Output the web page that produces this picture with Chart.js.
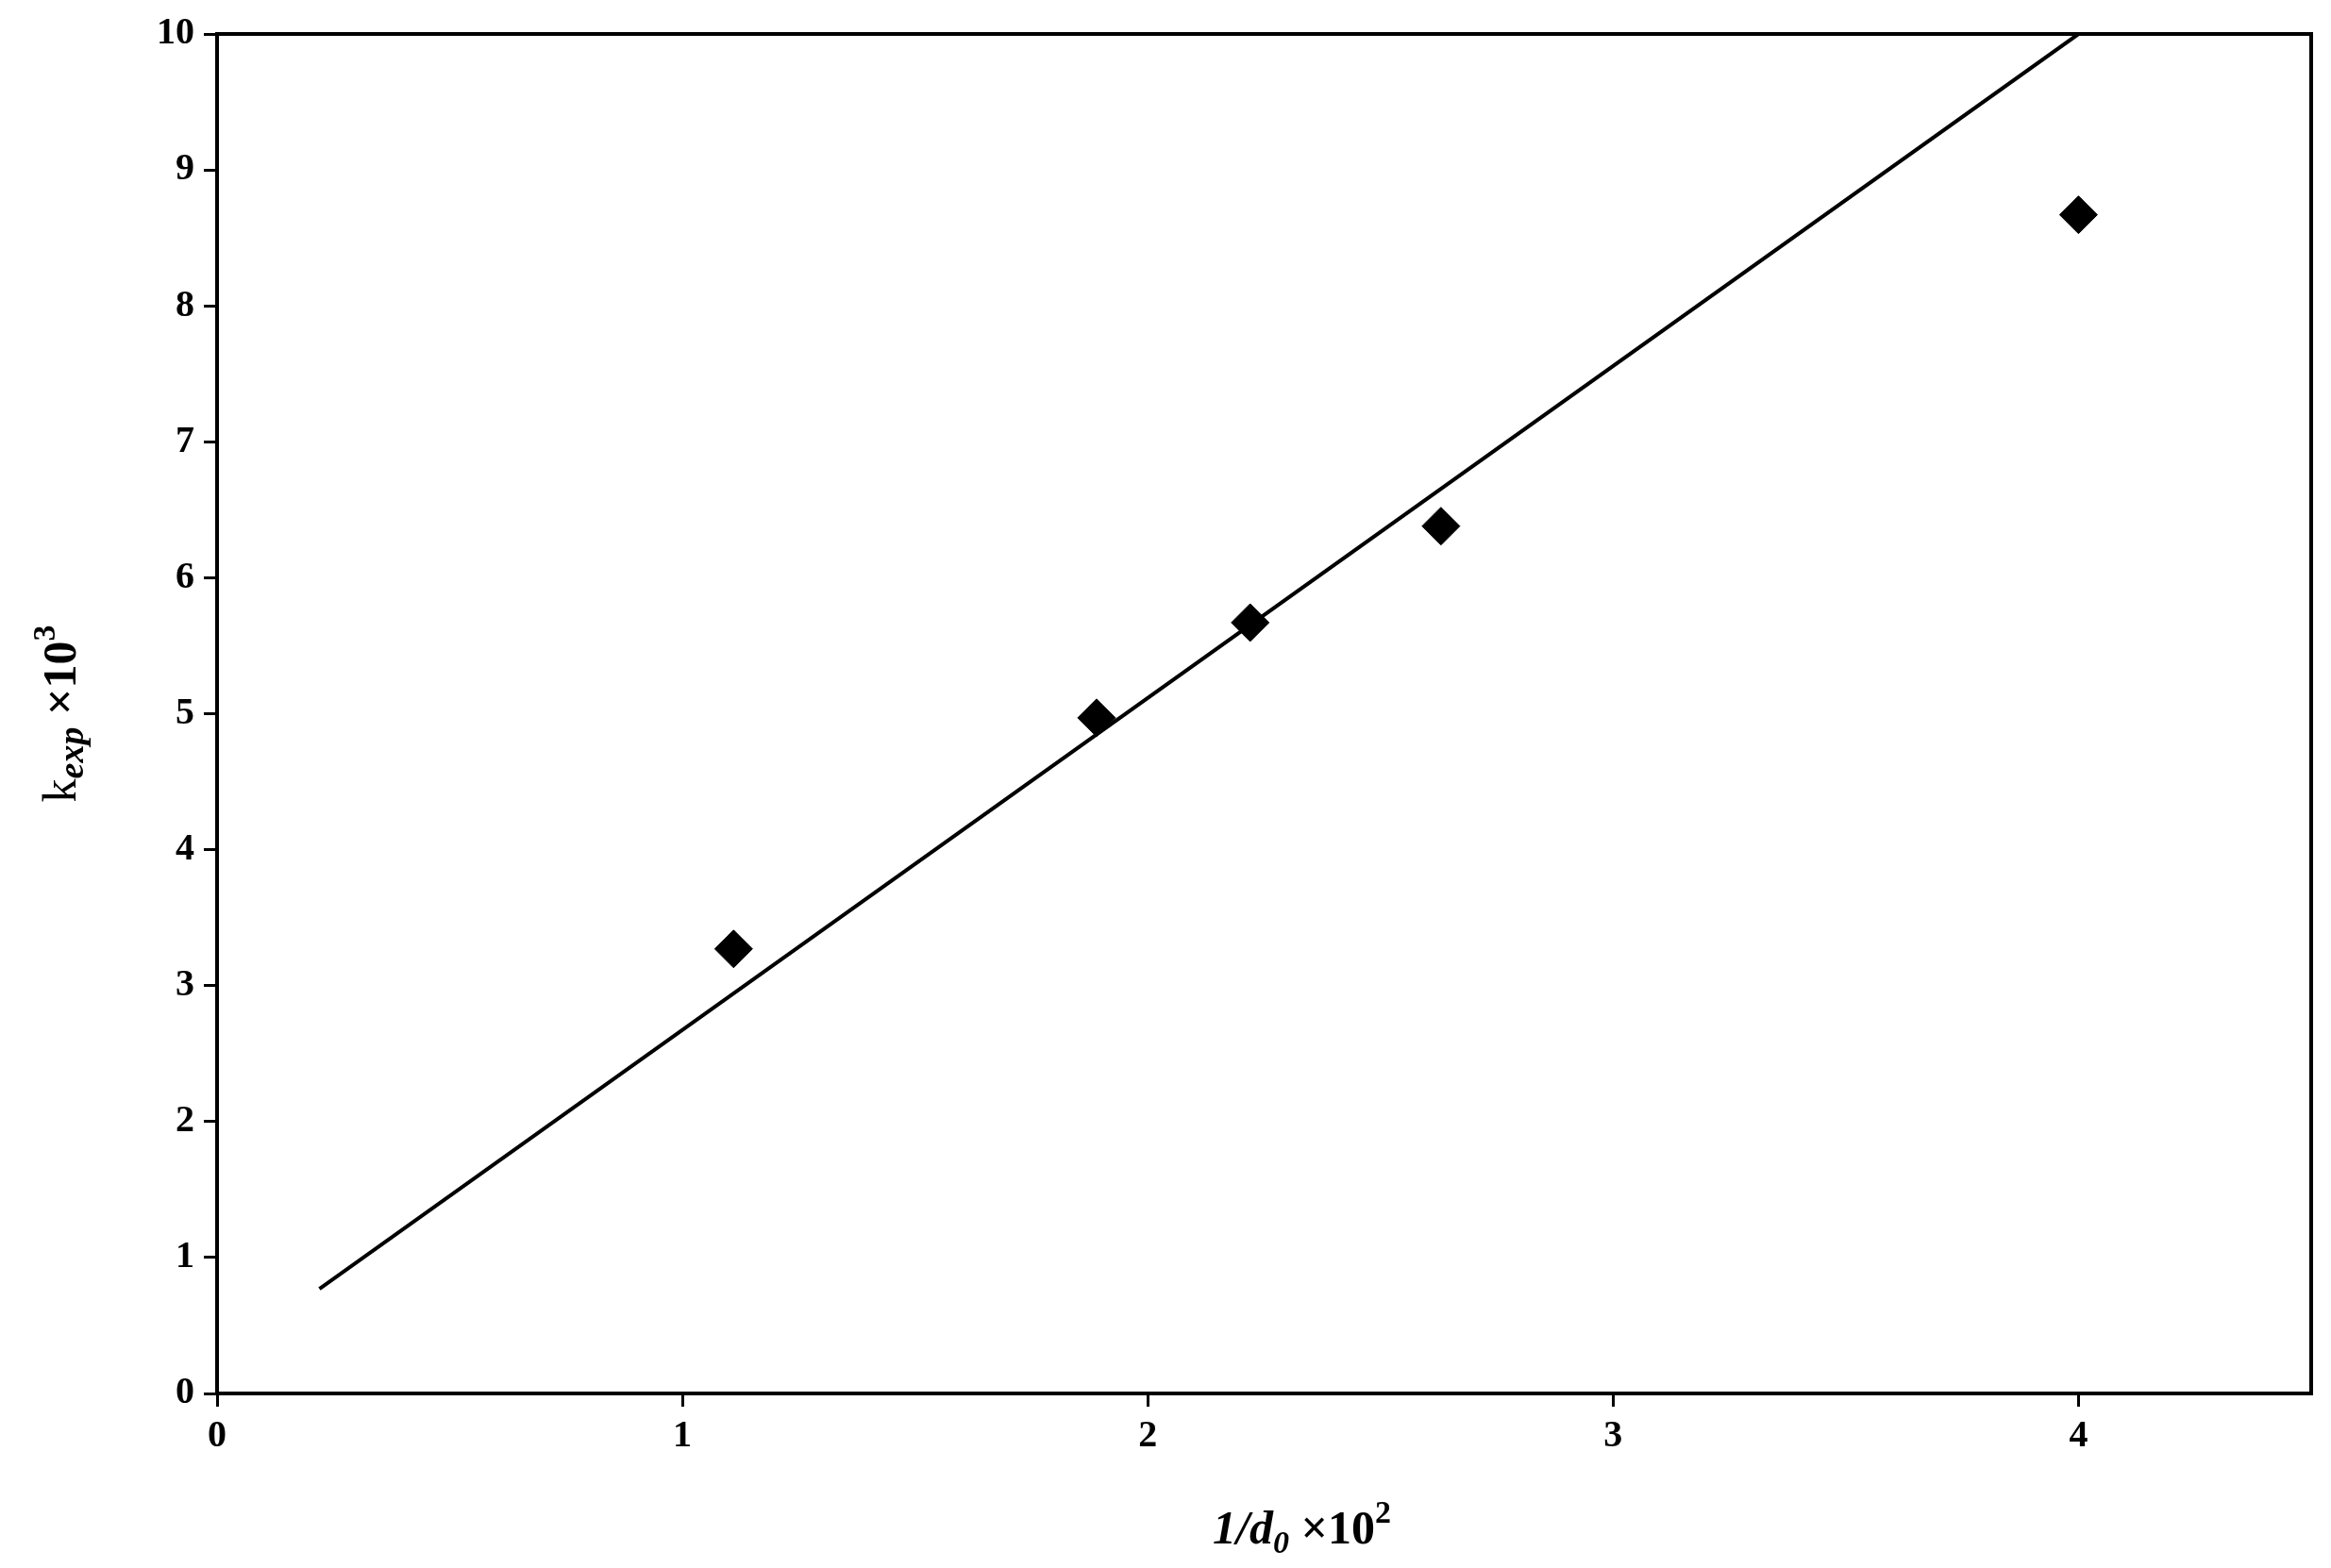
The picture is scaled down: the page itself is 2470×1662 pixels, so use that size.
<!DOCTYPE html>
<html>
<head>
<meta charset="utf-8">
<script src="https://cdn.jsdelivr.net/npm/chart.js@4/dist/chart.umd.min.js"></script>
<style>
  html, body { margin: 0; padding: 0; background: #fff; }
  canvas { display: block; }
</style>
</head>
<body>
<canvas id="c" width="2470" height="1662"></canvas>
<script>
// === Données ===
const xValues = [1.11, 1.89, 2.22, 2.63, 4.0];
const yValues = [3.27, 4.97, 5.67, 6.38, 8.67];
const fitX = [0.22, 4.0];
const fitY = [0.77, 10.0];
const xTicks = [0, 1, 2, 3, 4];
const yTicks = [0, 1, 2, 3, 4, 5, 6, 7, 8, 9, 10];

const FONT = '"Liberation Serif", "Times New Roman", serif';

// === Titres des axes avec indices / exposants ===
const axisTitles = {
  id: 'axisTitles',
  afterDraw(chart) {
    const ctx = chart.ctx;
    const area = chart.chartArea;
    ctx.save();
    ctx.fillStyle = '#000';
    ctx.textBaseline = 'alphabetic';

    // cadre
    ctx.strokeStyle = '#000';
    ctx.lineWidth = 4;
    ctx.strokeRect(area.left, area.top, area.right - area.left, area.bottom - area.top);

    // titre X : 1/d0 ×10²
    const parts = [
      { t: '1/d', f: 'italic bold 50px ' + FONT, dy: 0 },
      { t: '0', f: 'italic bold 34px ' + FONT, dy: 10 },
      { t: ' \u00d710', f: 'bold 50px ' + FONT, dy: 0 },
      { t: '2', f: 'bold 34px ' + FONT, dy: -22 }
    ];
    let w = 0;
    parts.forEach(p => { ctx.font = p.f; w += ctx.measureText(p.t).width; });
    let x = (area.left + area.right) / 2 - w / 2 + 40;
    const yBase = 1636;
    parts.forEach(p => { ctx.font = p.f; ctx.fillText(p.t, x, yBase + p.dy); x += ctx.measureText(p.t).width; });

    // titre Y : kexp ×10³
    ctx.translate(80, (area.top + area.bottom) / 2);
    ctx.rotate(-Math.PI / 2);
    const yparts = [
      { t: 'k', f: '50px ' + FONT, dy: 0 },
      { t: 'exp', f: 'italic bold 38px ' + FONT, dy: 8 },
      { t: ' \u00d710', f: 'bold 50px ' + FONT, dy: 0 },
      { t: '3', f: 'bold 34px ' + FONT, dy: -22 }
    ];
    w = 0;
    yparts.forEach(p => { ctx.font = p.f; w += ctx.measureText(p.t).width; });
    x = -w / 2;
    yparts.forEach(p => { ctx.font = p.f; ctx.fillText(p.t, x, p.dy); x += ctx.measureText(p.t).width; });
    ctx.restore();
  }
};

new Chart(document.getElementById('c'), {
  type: 'scatter',
  data: {
    datasets: [
      {
        label: 'k_exp',
        data: xValues.map((v, i) => ({ x: v, y: yValues[i] })),
        pointStyle: 'rectRot',
        pointRadius: 20,
        backgroundColor: '#000',
        borderColor: '#000'
      },
      {
        label: 'fit',
        type: 'line',
        data: fitX.map((v, i) => ({ x: v, y: fitY[i] })),
        borderColor: '#000',
        borderWidth: 4,
        pointRadius: 0,
        fill: false
      }
    ]
  },
  options: {
    responsive: false,
    animation: false,
    devicePixelRatio: 1,
    layout: { padding: { top: 36, right: 16, left: 0, bottom: 0 } },
    plugins: { legend: { display: false }, tooltip: { enabled: false } },
    scales: {
      x: {
        type: 'linear', min: 0, max: 4.5,
        afterBuildTicks: s => { s.ticks = xTicks.map(v => ({ value: v })); },
        afterFit: s => { s.height = 185; },
        grid: { drawOnChartArea: false, tickLength: 14, color: '#000', lineWidth: 3 },
        border: { color: '#000', width: 4 },
        ticks: { color: '#000', font: { family: FONT, size: 40, weight: 'bold' }, padding: 8 }
      },
      y: {
        type: 'linear', min: 0, max: 10,
        afterBuildTicks: s => { s.ticks = yTicks.map(v => ({ value: v })); },
        afterFit: s => { s.width = 230; },
        grid: { drawOnChartArea: false, tickLength: 14, color: '#000', lineWidth: 3 },
        border: { color: '#000', width: 4 },
        ticks: { color: '#000', font: { family: FONT, size: 40, weight: 'bold' }, padding: 10 }
      }
    }
  },
  plugins: [axisTitles]
});
</script>
</body>
</html>
